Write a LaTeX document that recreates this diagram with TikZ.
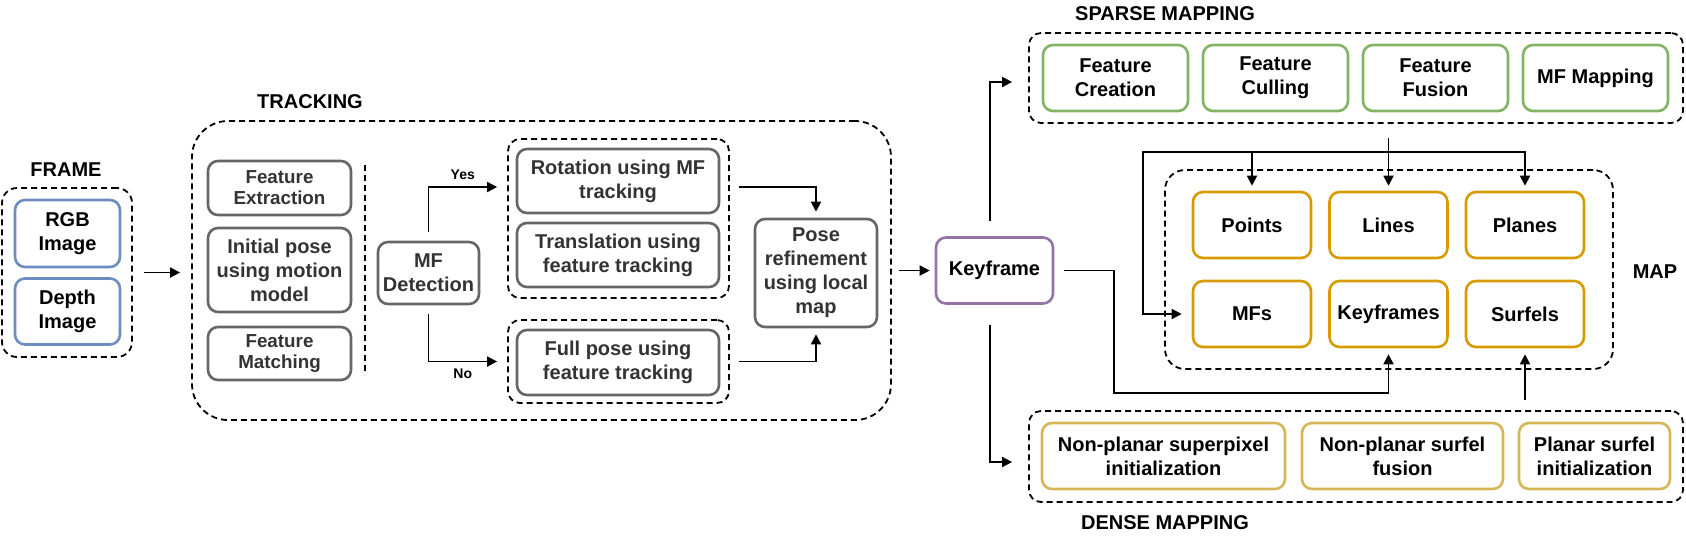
\documentclass[tikz,border=0pt]{standalone}
\usepackage{fontspec}
\setmainfont{Liberation Sans}
\usetikzlibrary{arrows.meta,positioning}
\definecolor{frameblue}{HTML}{6C8EBF}
\definecolor{trackgray}{HTML}{666666}
\definecolor{textgray}{HTML}{333333}
\definecolor{keypurple}{HTML}{9673A6}
\definecolor{sparsegreen}{HTML}{82B366}
\definecolor{maporange}{HTML}{D79B00}
\definecolor{densegold}{HTML}{D6B656}
\tikzset{block/.style={draw,line width=1.3pt,rounded corners=5pt,align=center,inner sep=0pt,
  font=\bfseries\fontsize{10}{12}\selectfont},
  small/.style={font=\bfseries\fontsize{9.4}{10.6}\selectfont},
  trk/.style={block,draw=trackgray,text=textgray,minimum width=71.5pt},
  sp/.style={block,draw=sparsegreen,minimum width=72.5pt,minimum height=33pt},
  mp/.style={block,draw=maporange,minimum width=59pt,minimum height=33pt},
  dn/.style={block,draw=densegold,minimum height=33pt},
  group/.style={draw,dash pattern=on 3pt off 2pt,line width=0.9pt,rounded corners=6pt,inner sep=0pt},
  head/.style={font=\bfseries\fontsize{10}{12}\selectfont},
  flow/.style={-{Triangle[length=5pt,width=5pt]},line width=0.9pt}}

\begin{document}
\begin{tikzpicture}[x=0.5pt,y=-0.5pt]
\useasboundingbox (0,0) rectangle (1686,538);
\node[group,rounded corners=7.5pt,minimum width=65pt,minimum height=84.5pt] (frame) at (67,272.5) {};
\node[head] (framelbl) at (66,170) {FRAME};
\node[block,draw=frameblue,minimum width=52.5pt,minimum height=33.5pt] (rgb) at (67.5,233.5) {RGB\\Image};
\node[block,draw=frameblue,minimum width=52.5pt,minimum height=33pt] (depth) at (67.5,311.5) {Depth\\Image};
\node[group,rounded corners=18pt,minimum width=349.5pt,minimum height=149.5pt] (track) at (541.5,270.5) {};
\node[head] (tracklbl) at (310,102) {TRACKING};
\node[trk,small,minimum height=27pt] (fext) at (279.5,188) {Feature\\Extraction};
\node[trk,minimum height=42pt] (init) at (279.5,270) {Initial pose\\using motion\\model};
\node[trk,small,minimum height=26.5pt] (fmatch) at (279.5,353.5) {Feature\\Matching};
\draw[group] (365,165) -- (365,375);
\node[trk,minimum width=50.5pt,minimum height=31pt] (mfd) at (428.5,273) {MF\\Detection};
\node[group,minimum width=110.5pt,minimum height=79.5pt] (upper) at (618.5,218.5) {};
\node[trk,minimum width=101pt,minimum height=32pt] (rot) at (618,181) {Rotation using MF\\tracking};
\node[trk,minimum width=101pt,minimum height=32pt] (trans) at (618,255) {Translation using\\feature tracking};
\node[group,minimum width=110.5pt,minimum height=41.5pt] (lower) at (618.5,361.5) {};
\node[trk,minimum width=101pt,minimum height=32.5pt] (full) at (618,362.5) {Full pose using\\feature tracking};
\node[trk,minimum width=61pt,minimum height=54pt] (pose) at (816,273) {Pose\\refinement\\using local\\map};
\node[block,draw=keypurple,minimum width=58.5pt,minimum height=33pt] (key) at (994.5,270.5) {Keyframe};
\node[group,minimum width=327pt,minimum height=45pt] (sparse) at (1356,78) {};
\node[head] (sparselbl) at (1165,14) {SPARSE MAPPING};
\node[sp] (fcre) at (1115.5,78) {Feature\\Creation};
\node[sp,right=6.2pt of fcre] (fcul) {Feature\\Culling};
\node[sp,right=6.2pt of fcul] (ffus) {Feature\\Fusion};
\node[sp,right=6.2pt of ffus] (mfmap) {MF Mapping};
\node[group,rounded corners=10pt,minimum width=224pt,minimum height=99.5pt] (map) at (1389,269.5) {};
\node[head] (maplbl) at (1655,272) {MAP};
\node[mp] (pts) at (1252,225) {Points};
\node[mp,right=7.95pt of pts] (lns) {Lines};
\node[mp,right=7.95pt of lns] (pln) {Planes};
\node[mp,below=10.2pt of pts] (mfs) {MFs};
\node[mp,right=7.95pt of mfs] (kfs) {Keyframes};
\node[mp,right=7.95pt of kfs] (srf) {Surfels};
\node[group,minimum width=327pt,minimum height=45.5pt] (dense) at (1356,456.5) {};
\node[head] (denselbl) at (1165,523) {DENSE MAPPING};
\node[dn,minimum width=121.5pt] (nps) at (1163.5,456) {Non-planar superpixel\\initialization};
\node[dn,minimum width=100.5pt,right=7.2pt of nps] (npf) {Non-planar surfel\\fusion};
\node[dn,minimum width=75.5pt,right=6.7pt of npf] (psi) {Planar surfel\\initialization};
\draw[flow,shorten <=5.5pt,shorten >=5.5pt] (frame.east) -- (frame.east -| track.west);
\draw[flow] ([yshift=4.5pt]mfd.north) |- ([xshift=-5pt,yshift=15.75pt]upper.west)
  node[pos=0.75,above,font=\bfseries\fontsize{7}{8}\selectfont] (yes) {Yes};
\draw[flow] ([yshift=-4.5pt]mfd.south) |- ([xshift=-5pt]lower.west)
  node[pos=0.75,below,font=\bfseries\fontsize{7}{8}\selectfont] (no) {No};
\draw[flow] ([xshift=4.5pt,yshift=15.75pt]upper.east) -| ([yshift=3pt]pose.north);
\draw[flow] ([xshift=4.5pt]lower.east) -| ([yshift=-3pt]pose.south);
\draw[flow] ([xshift=3.5pt]track.east) -- ([xshift=-2.5pt]key.west);
\draw[flow] ([xshift=-2.25pt,yshift=7.5pt]key.north) |- ([xshift=-8pt,yshift=-2pt]sparse.west);
\draw[flow] ([xshift=-2.25pt,yshift=-10pt]key.south) |- ([xshift=-8pt,yshift=-2.75pt]dense.west);
\draw[flow] ([xshift=5pt]key.east) -- ++(25pt,0) |- ([yshift=-22.5pt]kfs.south) -- ([yshift=-3pt]kfs.south);
\coordinate (sb) at (sparse.south -| lns.north);
\coordinate (sp) at ([yshift=-7pt]sb);
\coordinate (bus) at ([yshift=-14pt]sb);
\coordinate (busl) at ([xshift=-10.5pt]map.west);
\draw[flow] (sp) -- ([yshift=2.5pt]lns.north);
\draw[flow] (sp) -- (bus) -| ([yshift=2.5pt]pts.north);
\draw[flow] (sp) -- (bus) -| ([yshift=2.5pt]pln.north);
\draw[flow] (sp) -- (bus) -| (busl) |- ([xshift=-5pt]mfs.west);
\coordinate (db) at (dense.north -| srf.south);
\draw[flow] ([yshift=5pt]db) -- ([yshift=-3pt]srf.south);
\end{tikzpicture}
\end{document}
